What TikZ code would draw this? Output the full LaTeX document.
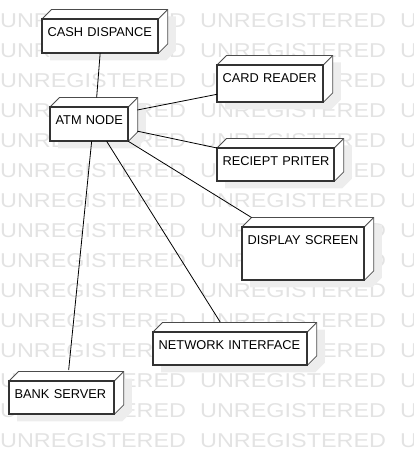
\documentclass[tikz,border=0pt]{standalone}
\usepackage{fontspec}
\setmainfont{Liberation Sans}

\pgfdeclarelayer{background}
\pgfsetlayers{background,main}

\tikzset{
  depnode/.style 2 args={draw=black!80, line width=1.3pt, fill=white, anchor=north west,
    inner xsep=5pt, inner ysep=0pt, text width=#1, text height=17.3pt, text depth=#2,
    align=left, font=\fontsize{12.8}{15}\selectfont},
  depface/.style={draw=black!70, line width=0.8pt, fill=white, line join=round},
  frontline/.style={draw=black!80, line width=1.3pt},
  shade/.style={fill=black!7},
  link/.style={draw, line width=0.8pt},
  watermark/.style={text=black!11, font=\fontsize{20}{24}\selectfont, anchor=base west, inner sep=0pt}
}

\begin{document}
\begin{tikzpicture}[x=1pt, y=1pt]
    \useasboundingbox (0,0) rectangle (413,-454);
    % Watermark
    \begin{pgfonlayer}{background}
        \clip (0,0) rectangle (413,-454);
        \foreach \r in {0,...,14}
            \foreach \c in {0,1,2}
                \node[watermark] (wm-\r-\c) at (200*\c, -27.3-30*\r) {\scalebox{1.17}[1]{UNREGISTERED}};
    \end{pgfonlayer}
    % Nodes
    \node[depnode={105pt}{15.7pt}] (cash) at (42, -19) {CASH~DISPANCE};
    \node[depnode={67pt}{15.7pt}] (atm) at (50, -107) {ATM~NODE};
    \node[depnode={95pt}{18.7pt}] (card) at (217, -65) {CARD~READER};
    \node[depnode={106pt}{14.7pt}] (reciept) at (217, -148) {RECIEPT~PRITER};
    \node[depnode={111pt}{34.7pt}] (display) at (242, -227) {DISPLAY~SCREEN};
    \node[depnode={143pt}{14.7pt}] (network) at (153, -332) {NETWORK~INTERFACE};
    \node[depnode={94pt}{14.7pt}] (bank) at (9, -381) {BANK~SERVER};
    % 3D faces and shadows
    \foreach \n in {cash, atm, card, reciept, display, network, bank} {
        \begin{pgfonlayer}{background}
            \fill[shade] ([shift={(8,-7)}]\n.north west) -- ([shift={(17.5,2.5)}]\n.north west)
                -- ([shift={(17.5,2.5)}]\n.north east) -- ([shift={(17.5,2.5)}]\n.south east)
                -- ([shift={(8,-7)}]\n.south east) -- ([shift={(8,-7)}]\n.south west) -- cycle;
        \end{pgfonlayer}
        \draw[depface] (\n.north west) -- ++(9.5,9.5) -- ([shift={(9.5,9.5)}]\n.north east)
            -- ([shift={(9.5,9.5)}]\n.south east) -- (\n.south east) -- (\n.north east) -- cycle;
        \draw[depface] (\n.north east) -- ++(9.5,9.5);
        \draw[frontline] (\n.north west) rectangle (\n.south east);
    }
    % Edges
    \draw[link] (cash.south) -- ([shift={(7.5,9.5)}]atm.north);
    \draw[link] ([shift={(9,-3)}]atm.north east) -- ([yshift=8]card.south west);
    \draw[link] ([shift={(9,-7)}]atm.east) -- (reciept.north west);
    \draw[link] (atm.south east) -- ([shift={(9.5,9.5)}]display.north west);
    \draw[link] ([xshift=17.5]atm.south) -- ([shift={(-10,10)}]network.north);
    \draw[link] ([xshift=2.5]atm.south) -- ([shift={(7,11)}]bank.north);
\end{tikzpicture}
\end{document}
